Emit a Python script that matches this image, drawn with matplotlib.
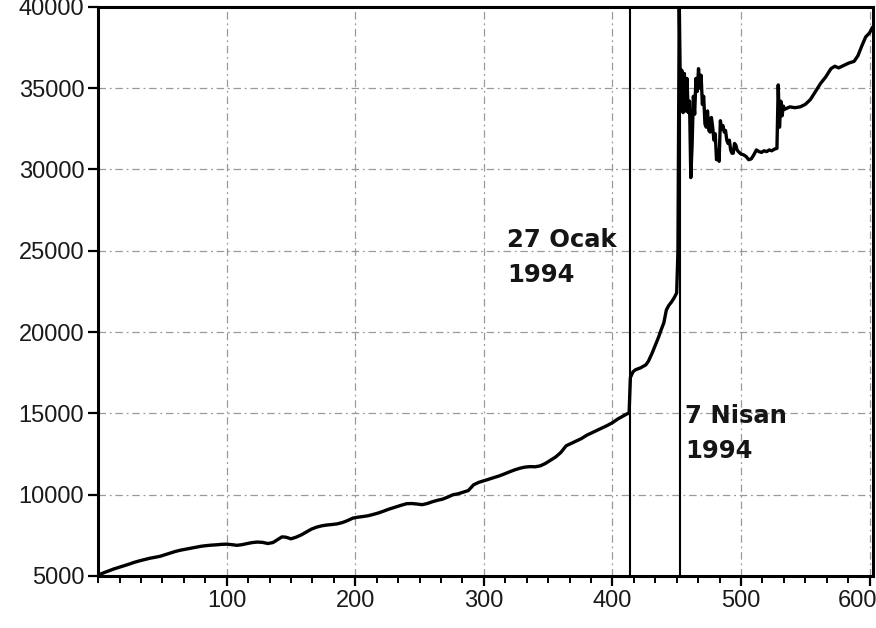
import matplotlib
matplotlib.use("Agg")
import matplotlib.pyplot as plt
import matplotlib.transforms as mtransforms
from matplotlib.ticker import MultipleLocator

# Daily TL/USD series (trading-day index vs. rate)
days = [0, 4, 8, 12, 16, 20, 24, 28, 32, 36, 40, 44, 48, 52, 56, 60, 64, 68, 72, 76,
        80, 84, 88, 92, 96, 100, 104, 108, 112, 116, 120, 124, 128, 132, 136, 140, 143,
        146, 150, 154, 158, 162, 166, 170, 174, 178, 182, 186, 190, 194, 198, 202, 206,
        210, 214, 218, 222, 226, 230, 232, 236, 240, 244, 248, 252, 256, 260, 264, 268,
        272, 276, 280, 284, 288, 292, 296, 300, 304, 308, 312, 316, 320, 324, 328, 332,
        336, 340, 344, 348, 352, 356, 360, 364, 368, 372, 376, 380, 384, 388, 392, 396,
        400, 404, 408, 411, 413, 414, 416, 418, 422, 426, 428, 431, 434, 436, 438, 440,
        442, 444, 446, 448, 450, 451, 452, 453, 454, 455, 456, 457, 458, 459, 460, 461,
        462, 463, 464, 465, 466, 467, 468, 469, 470, 471, 472, 473, 474, 475, 476, 477,
        478, 479, 480, 481, 482, 483, 484, 485, 486, 487, 488, 489, 490, 491, 492, 493,
        494, 495, 496, 497, 498, 500, 502, 504, 506, 508, 510, 512, 514, 516, 518, 520,
        522, 524, 526, 528, 529, 530, 531, 532, 533, 534, 538, 542, 546, 550, 554, 558,
        562, 566, 570, 573, 576, 580, 584, 588, 591, 594, 597, 600, 602]
rate = [5050, 5180, 5300, 5420, 5520, 5620, 5720, 5830, 5920, 6000, 6080, 6140, 6200,
        6300, 6400, 6500, 6580, 6640, 6700, 6760, 6820, 6860, 6890, 6910, 6940, 6950,
        6920, 6880, 6920, 6990, 7050, 7080, 7060, 6990, 7050, 7250, 7400, 7380, 7280,
        7380, 7520, 7700, 7880, 8000, 8080, 8130, 8160, 8200, 8280, 8400, 8550, 8610,
        8650, 8700, 8780, 8870, 8980, 9100, 9200, 9250, 9350, 9440, 9450, 9420, 9380,
        9450, 9560, 9650, 9720, 9850, 9990, 10050, 10150, 10250, 10600, 10750, 10850,
        10950, 11050, 11150, 11270, 11400, 11520, 11620, 11690, 11720, 11710, 11770,
        11920, 12120, 12320, 12600, 13000, 13150, 13300, 13450, 13650, 13800, 13950,
        14100, 14250, 14420, 14640, 14820, 14950, 15020, 17200, 17550, 17680, 17800,
        17980, 18200, 18720, 19300, 19700, 20150, 20560, 21360, 21650, 21850, 22100,
        22400, 25000, 40200, 34000, 36100, 33500, 35900, 33600, 35600, 33500, 34200,
        29500, 31500, 34500, 33400, 35600, 34800, 36200, 35000, 35800, 34000, 34500,
        32800, 32600, 33600, 32400, 32300, 33200, 32600, 31800, 32200, 30600, 31200,
        30500, 33000, 32500, 32700, 32300, 32400, 31800, 31600, 31800, 31200, 31000,
        31000, 31600, 31500, 31200, 31100, 30950, 30900, 30800, 30600, 30650, 30900,
        31200, 31100, 31050, 31150, 31100, 31200, 31150, 31250, 31300, 35200, 32600,
        34200, 33300, 33900, 33700, 33850, 33800, 33850, 34000, 34300, 34800, 35300,
        35700, 36200, 36350, 36250, 36400, 36550, 36650, 37000, 37600, 38150, 38400,
        38700]

event_days = [413.8, 452.7]
event_labels = ["27 Ocak\n1994", "7 Nisan\n1994"]
event_text_pos = [(318, 26400), (456.5, 15600)]

x_ticks = [100, 200, 300, 400, 500, 600]
y_ticks = [5000, 10000, 15000, 20000, 25000, 30000, 35000, 40000]

fig = plt.figure(figsize=(8.76, 6.28), dpi=100)
ax = fig.add_axes([0.112, 0.083, 0.885, 0.906])

ax.plot(days, rate, color="black", lw=2.4, solid_joinstyle="round", zorder=3)

for d in event_days:
    ax.axvline(d, color="black", lw=1.5, zorder=4)

for (tx, ty), lab in zip(event_text_pos, event_labels):
    ax.text(tx, ty, lab, fontsize=17.5, fontweight="bold", family="DejaVu Sans",
            color="#151515", ha="left", va="top", linespacing=1.6, zorder=5)

ax.set_xlim(0, 603)
ax.set_ylim(5000, 40000)
ax.set_xticks(x_ticks)
ax.set_yticks(y_ticks)
ax.xaxis.set_minor_locator(MultipleLocator(100 / 6))

ax.grid(True, which="major", color="#9a9a9a", lw=0.9, linestyle=(0, (6, 3, 1.5, 3)))
ax.set_axisbelow(True)

for side in ax.spines.values():
    side.set_linewidth(2.2)
    side.set_color("black")

ax.tick_params(axis="both", which="major", direction="out", length=7, width=1.6,
               labelsize=17, colors="black", labelcolor="#1a1a1a", pad=3)
ax.tick_params(axis="x", which="minor", direction="out", length=5, width=1.4)
for lbl in ax.get_xticklabels() + ax.get_yticklabels():
    lbl.set_family("Liberation Sans")

# keep the last x label inside the canvas edge
last = ax.get_xticklabels()[-1]
last.set_transform(last.get_transform() +
                   mtransforms.ScaledTranslation(-9 / 72, 0, fig.dpi_scale_trans))

fig.savefig("out.png", dpi=100, facecolor="white")
